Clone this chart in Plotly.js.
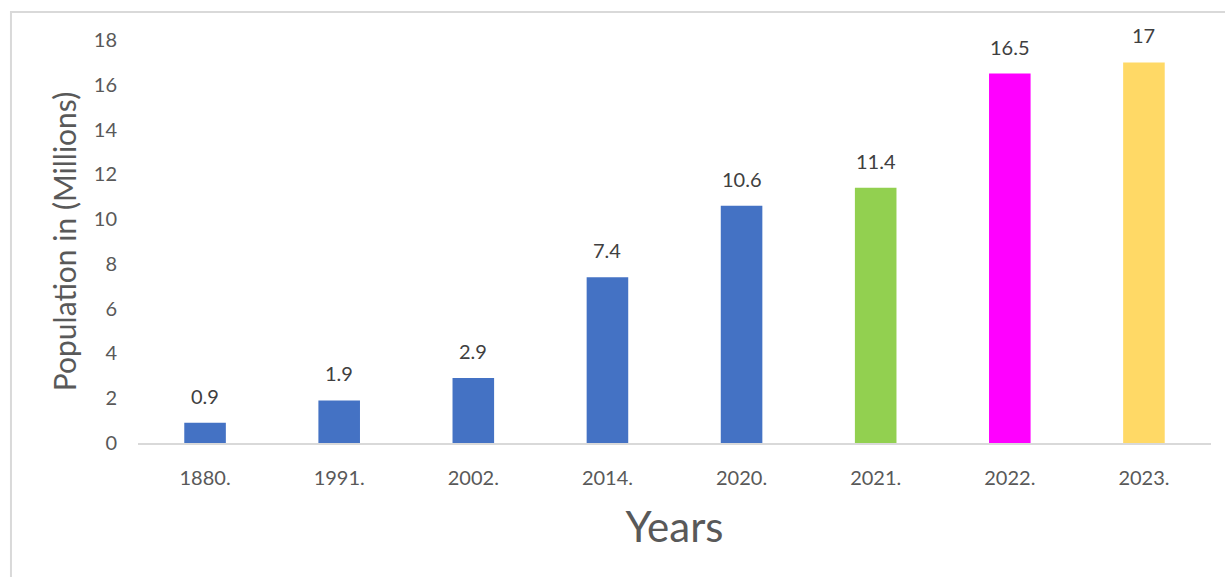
<!DOCTYPE html>
<html>
<head>
<meta charset="utf-8">
<script src="https://cdn.plot.ly/plotly-3.0.1.min.js"></script>
<style>html,body{margin:0;padding:0;background:#fff}#chart{width:1225px;height:577px}</style>
</head>
<body>
<div id="chart"></div>
<script>
const years = ["1880.", "1991.", "2002.", "2014.", "2020.", "2021.", "2022.", "2023."];
const population = [0.9, 1.9, 2.9, 7.4, 10.6, 11.4, 16.5, 17];
const valueLabels = ["0.9", "1.9", "2.9", "7.4", "10.6", "11.4", "16.5", "17"];
const barColors = ["#4472C4", "#4472C4", "#4472C4", "#4472C4", "#4472C4", "#92D050", "#FF00FF", "#FFD966"];
const yTicks = [0, 2, 4, 6, 8, 10, 12, 14, 16, 18];

const FONT = "Lato, 'Open Sans', sans-serif";
const positions = years.map((_, i) => i);

const trace = {
  type: "bar",
  x: positions,
  y: population,
  marker: {color: barColors},
  width: 0.31,
  hoverinfo: "none"
};

const annotations = positions.map((p, i) => ({
  x: p, y: population[i], xref: "x", yref: "y",
  text: valueLabels[i], showarrow: false,
  yanchor: "middle", yshift: 27,
  font: {family: FONT, size: 20, color: "#404040"}
}));

const layout = {
  width: 1225, height: 577,
  margin: {l: 138, r: 14, t: 40, b: 134},
  paper_bgcolor: "#fff", plot_bgcolor: "#fff",
  showlegend: false,
  font: {family: FONT, color: "#595959"},
  xaxis: {
    type: "linear",
    range: [-0.5, years.length - 0.5],
    tickvals: positions,
    ticktext: years,
    showgrid: false, zeroline: false,
    showline: true, linecolor: "#d9d9d9", linewidth: 2,
    ticks: "", ticklabelstandoff: 16,
    tickfont: {family: FONT, size: 20, color: "#595959"},
    title: {text: "Years", font: {family: FONT, size: 42, color: "#595959"}, standoff: 25}
  },
  yaxis: {
    range: [0, 18],
    tickvals: yTicks,
    ticktext: yTicks.map(String),
    showgrid: false, zeroline: false, showline: false,
    ticks: "", ticklabelstandoff: 20,
    tickfont: {family: FONT, size: 20, color: "#595959"},
    title: {text: "Population in (Millions)", font: {family: FONT, size: 30, color: "#595959"}, standoff: 8}
  },
  annotations: annotations,
  shapes: [{
    type: "rect", xref: "paper", yref: "paper",
    x0: -0.1184, x1: 1.2, y0: -0.6, y1: 1.0695,
    line: {color: "#d9d9d9", width: 2}, layer: "below"
  }]
};

Plotly.newPlot("chart", [trace], layout, {displayModeBar: false, staticPlot: true});
</script>
</body>
</html>
